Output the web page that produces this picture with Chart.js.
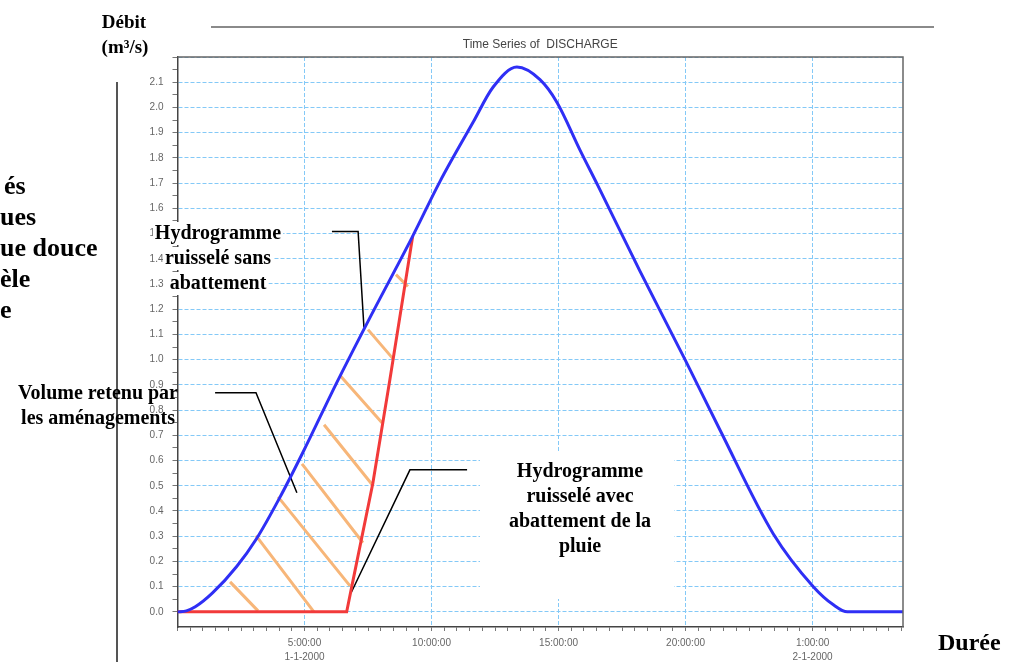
<!DOCTYPE html>
<html>
<head>
<meta charset="utf-8">
<script src="https://cdn.jsdelivr.net/npm/chart.js@4.4.0/dist/chart.umd.min.js"></script>
<style>
html, body { margin: 0; padding: 0; background: #fff; overflow: hidden; }
#wrap { position: relative; width: 1013px; height: 662px; }
</style>
</head>
<body>
<div id="wrap"><canvas id="myChart" width="1013" height="662"></canvas></div>
<script>
// Hydrogramme ruisselé sans abattement (heures depuis 0:00 le 1-1-2000, m3/s)
const blueHours = [0, 0.35, 0.7, 1.38, 2.33, 3.11, 4.02, 4.93, 6.27, 7.49, 9.26, 10.33, 11.63, 12.42, 13.36, 14.27, 14.94, 15.85, 16.55, 18.21, 19.98, 21.36, 23.45, 25.03, 25.82, 26.37, 28.6];
const blueFlow = [0, 0.004, 0.02, 0.075, 0.18, 0.29, 0.452, 0.631, 0.909, 1.15, 1.49, 1.706, 1.94, 2.08, 2.16, 2.11, 2.02, 1.83, 1.69, 1.35, 1.0, 0.72, 0.31, 0.10, 0.028, 0, 0];

// Hydrogramme ruisselé avec abattement de la pluie
const redHours = [0, 6.66, 6.86, 7.69, 8.36, 9.26];
const redFlow = [0, 0, 0.1, 0.51, 0.92, 1.49];

// hachures du volume retenu (début / fin de chaque trait)
const hatchX1 = [2.07, 3.09, 3.96, 4.90, 5.77, 6.40, 7.50, 8.60];
const hatchY1 = [0.119, 0.302, 0.456, 0.587, 0.742, 0.937, 1.119, 1.337];
const hatchX2 = [3.17, 5.37, 6.79, 7.30, 7.70, 8.05, 8.48, 9.07];
const hatchY2 = [0.004, 0.0, 0.103, 0.274, 0.50, 0.75, 1.004, 1.29];

// traits de rappel des étiquettes
const leaderSansX = [6.08, 7.11, 7.34];
const leaderSansY = [1.508, 1.508, 1.127];
const leaderVolX = [1.48, 3.09, 4.70];
const leaderVolY = [0.869, 0.869, 0.472];
const leaderAvecX = [11.40, 9.15, 6.83];
const leaderAvecY = [0.563, 0.563, 0.075];

// axes
const majorHours = [5, 10, 15, 20, 25];
const majorLabels = [['5:00:00', '1-1-2000'], '10:00:00', '15:00:00', '20:00:00', ['1:00:00', '2-1-2000']];

// étiquettes
const sansLines = ['Hydrogramme', 'ruisselé sans', 'abattement'];
const volLines = ['Volume retenu par', 'les aménagements'];
const avecLines = ['Hydrogramme', 'ruisselé avec', 'abattement de la', 'pluie'];
const leftLines = ['és', 'ues', 'ue douce', 'èle', 'e'];

function pts(xs, ys) {
    return xs.map((x, i) => ({x: x, y: ys[i]}));
}
function hatchPts() {
    const d = [];
    for (let i = 0; i < hatchX1.length; i++) {
        d.push({x: hatchX1[i], y: hatchY1[i]});
        d.push({x: hatchX2[i], y: hatchY2[i]});
        d.push({x: hatchX2[i], y: null});
    }
    return d;
}
function isTenth(v) {
    return Math.abs(v * 10 - Math.round(v * 10)) < 1e-6;
}

const serif = '"Liberation Serif", "Times New Roman", serif';
const sans = '"Liberation Sans", Arial, sans-serif';

const decor = {
    id: 'decor',
    beforeDatasetsDraw(chart) {
        const c = chart.ctx;
        c.save();
        c.fillStyle = '#fff';
        c.font = 'bold 20px ' + serif;
        sansLines.forEach((s, i) => {
            const w = c.measureText(s).width;
            c.fillRect(218 - w / 2 - 2, 239 + i * 25 - 17, w + 4, 23);
        });
        c.fillRect(480, 453, 194, 146);
        c.restore();
    },
    afterDraw(chart) {
        const c = chart.ctx;
        const a = chart.chartArea;
        c.save();
        // cadre de la fenêtre
        c.strokeStyle = '#8a8a8a';
        c.lineWidth = 2;
        c.beginPath(); c.moveTo(211, 27); c.lineTo(934, 27); c.stroke();
        c.strokeStyle = '#666';
        c.lineWidth = 1.5;
        c.beginPath();
        c.moveTo(a.left, a.top); c.lineTo(a.right, a.top); c.lineTo(a.right, a.bottom);
        c.stroke();
        c.strokeStyle = '#555';
        c.lineWidth = 2;
        c.beginPath(); c.moveTo(117, 82); c.lineTo(117, 662); c.stroke();

        // titre
        c.fillStyle = '#444';
        c.font = '12px ' + sans;
        c.textAlign = 'center';
        c.textBaseline = 'middle';
        c.fillText('Time Series of  DISCHARGE', (a.left + a.right) / 2, 45);

        // étiquettes
        c.fillStyle = '#000';
        c.textBaseline = 'alphabetic';
        c.font = 'bold 20px ' + serif;
        sansLines.forEach((s, i) => c.fillText(s, 218, 239 + i * 25));
        volLines.forEach((s, i) => c.fillText(s, 98, 399 + i * 25));
        avecLines.forEach((s, i) => c.fillText(s, 580, 477 + i * 25));

        // titres des axes
        c.font = 'bold 19px ' + serif;
        c.fillText('Débit', 124, 28);
        c.fillText('(m³/s)', 125, 53);
        c.textAlign = 'left';
        c.font = 'bold 24px ' + serif;
        c.fillText('Durée', 938, 650);

        // texte coupé à gauche
        c.font = 'bold 26px ' + serif;
        leftLines.forEach((s, i) => c.fillText(s, i === 0 ? 4 : 0, 194 + i * 31));
        c.restore();
    }
};

const myChart = new Chart(document.getElementById('myChart').getContext('2d'), {
    type: 'line',
    data: {
        datasets: [{
            label: 'sans abattement',
            data: pts(blueHours, blueFlow),
            borderColor: '#2f2ff5',
            borderWidth: 3,
            pointRadius: 0,
            cubicInterpolationMode: 'monotone',
        }, {
            label: 'avec abattement',
            data: pts(redHours, redFlow),
            borderColor: '#f23a3a',
            borderWidth: 3,
            pointRadius: 0,
            tension: 0,
        }, {
            label: 'volume retenu',
            data: hatchPts(),
            borderColor: '#f7b679',
            borderWidth: 3,
            pointRadius: 0,
            spanGaps: false,
        }, {
            data: pts(leaderSansX, leaderSansY),
            borderColor: '#000',
            borderWidth: 1.5,
            pointRadius: 0,
        }, {
            data: pts(leaderVolX, leaderVolY),
            borderColor: '#000',
            borderWidth: 1.5,
            pointRadius: 0,
        }, {
            data: pts(leaderAvecX, leaderAvecY),
            borderColor: '#000',
            borderWidth: 1.5,
            pointRadius: 0,
        }]
    },
    options: {
        responsive: false,
        animation: false,
        events: [],
        layout: { padding: { left: 0, right: 110, top: 57, bottom: 0 } },
        plugins: { legend: { display: false }, tooltip: { enabled: false } },
        scales: {
            x: {
                type: 'linear',
                min: 0,
                max: 28.56,
                afterBuildTicks(scale) {
                    const t = [];
                    for (let h = 0; h <= 28.5; h += 0.5) t.push({value: h});
                    scale.ticks = t;
                },
                afterFit(scale) { scale.height = 35; },
                ticks: {
                    autoSkip: false,
                    maxRotation: 0,
                    padding: 5,
                    color: '#666',
                    font: { family: sans, size: 10, lineHeight: 1.4 },
                    callback(v) {
                        const i = majorHours.indexOf(v);
                        return i >= 0 ? majorLabels[i] : '';
                    }
                },
                grid: {
                    color: c => majorHours.includes(c.tick && c.tick.value) ? '#84c9f7' : 'rgba(0,0,0,0)',
                    tickColor: '#777',
                    tickLength: 4,
                    lineWidth: 1,
                },
                border: { color: '#444', width: 1.5, dash: [4, 2] }
            },
            y: {
                min: -0.06,
                max: 2.2,
                afterBuildTicks(scale) {
                    const t = [];
                    for (let k = 0; k <= 44; k++) t.push({value: k / 20});
                    scale.ticks = t;
                },
                afterFit(scale) { scale.width = 177.5; },
                ticks: {
                    autoSkip: false,
                    padding: 9,
                    color: '#666',
                    font: { family: sans, size: 10 },
                    callback(v) {
                        return isTenth(v) && v < 2.15 ? v.toFixed(1) : '';
                    }
                },
                grid: {
                    color: c => (c.tick && isTenth(c.tick.value)) ? '#84c9f7' : 'rgba(0,0,0,0)',
                    tickColor: '#777',
                    tickLength: 5,
                    lineWidth: 1,
                },
                border: { color: '#444', width: 1.5, dash: [4, 2] }
            }
        }
    },
    plugins: [decor]
});
</script>
</body>
</html>
